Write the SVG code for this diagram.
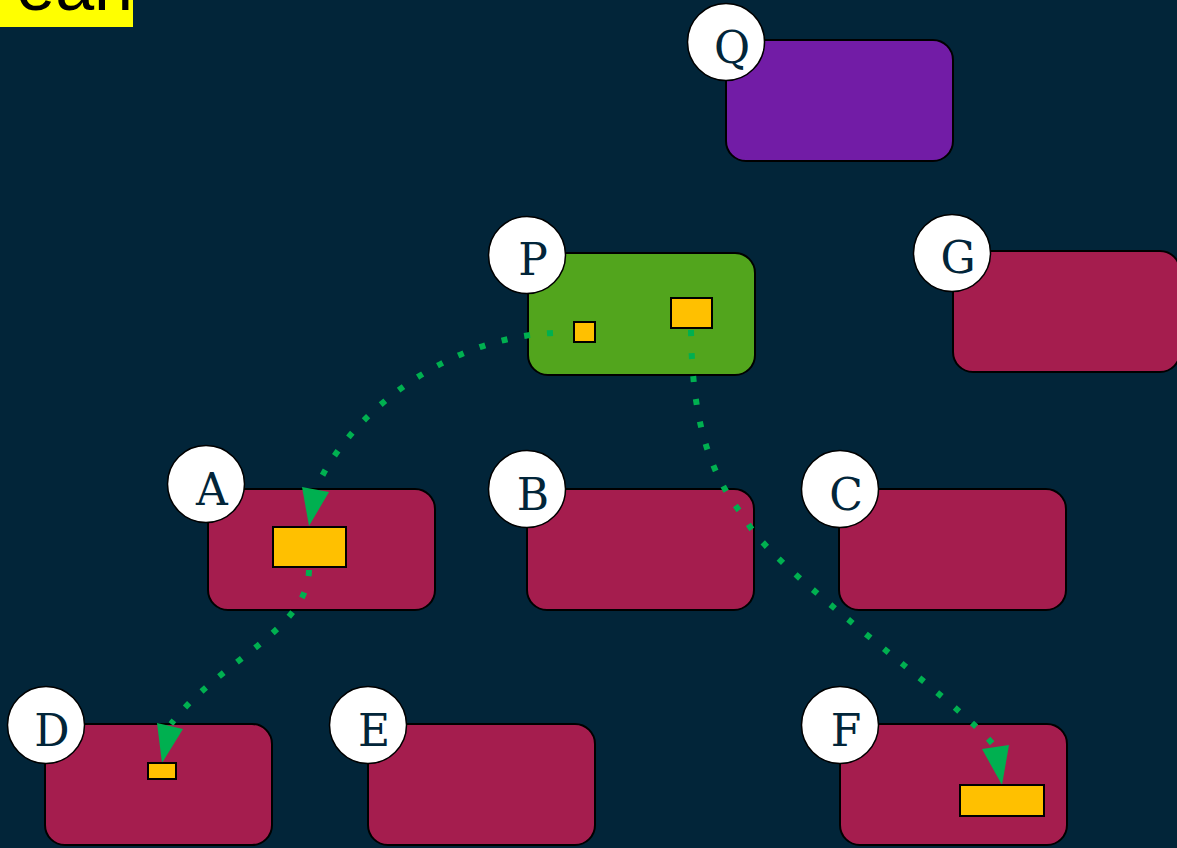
<svg xmlns="http://www.w3.org/2000/svg" width="1177" height="848" viewBox="0 0 1177 848">
<style>
.node{stroke:#000;stroke-width:2}
.red{fill:#a51d4e}
.pur{fill:#721ca6}
.grn{fill:#52a51d}
.badge{fill:#fff;stroke:#000;stroke-width:1.5}
.lbl{font-family:"DejaVu Serif","Liberation Serif",serif;font-size:44px;fill:#022539;text-anchor:middle}
.port{fill:#ffc000;stroke:#000;stroke-width:2}
.edge{fill:none;stroke:#00b050;stroke-width:6;stroke-dasharray:6 17}
.head{fill:#00b050}
</style>
<rect x="0" y="0" width="1177" height="848" fill="#022539"/>
<g id="title">
<rect x="0" y="0" width="133" height="27" fill="#ffff00"/>
<text x="133" y="10" font-family="'Liberation Sans',Arial,sans-serif" font-size="70" fill="#000" text-anchor="end">ean</text>
</g>
<g id="node-Q"><rect class="node pur" x="726" y="40" width="227" height="121" rx="20"/><circle class="badge" cx="726" cy="42" r="38.5"/><text class="lbl" x="732" y="63">Q</text></g>
<g id="node-P"><rect class="node grn" x="528" y="253" width="227" height="122" rx="20"/><circle class="badge" cx="527" cy="255" r="38.5"/><text class="lbl" x="533" y="275">P</text></g>
<g id="node-G"><rect class="node red" x="953" y="251" width="227" height="121" rx="20"/><circle class="badge" cx="952" cy="253" r="38.5"/><text class="lbl" x="958" y="273">G</text></g>
<g id="node-A"><rect class="node red" x="208" y="489" width="227" height="121" rx="20"/><circle class="badge" cx="206" cy="484" r="38.5"/><text class="lbl" x="212" y="505">A</text></g>
<g id="node-B"><rect class="node red" x="527" y="489" width="227" height="121" rx="20"/><circle class="badge" cx="527" cy="489" r="38.5"/><text class="lbl" x="533" y="510">B</text></g>
<g id="node-C"><rect class="node red" x="839" y="489" width="227" height="121" rx="20"/><circle class="badge" cx="840" cy="489" r="38.5"/><text class="lbl" x="846" y="510">C</text></g>
<g id="node-D"><rect class="node red" x="45" y="724" width="227" height="121" rx="20"/><circle class="badge" cx="46" cy="725" r="38.5"/><text class="lbl" x="52" y="746">D</text></g>
<g id="node-E"><rect class="node red" x="368" y="724" width="227" height="121" rx="20"/><circle class="badge" cx="368" cy="725" r="38.5"/><text class="lbl" x="374" y="746">E</text></g>
<g id="node-F"><rect class="node red" x="840" y="724" width="227" height="121" rx="20"/><circle class="badge" cx="840" cy="725" r="38.5"/><text class="lbl" x="846" y="746">F</text></g>
<g id="connectors">
<path class="edge" d="M 553 333 C 440 338, 345 420, 316 489"/>
<polygon class="head" points="302,487 329,492 309,526"/>
<path class="edge" d="M 691 330 C 692 410, 705 470, 745 518 C 765 565, 965 705, 995 747"/>
<polygon class="head" points="982,749 1009,745 1002,785"/>
<path class="edge" d="M 309 570 C 308 630, 220 660, 171 724"/>
<polygon class="head" points="157,723 183,729 162,763"/>
</g>
<g id="ports">
<rect class="port" x="574" y="322" width="21" height="20"/>
<rect class="port" x="671" y="298" width="41" height="30"/>
<rect class="port" x="273" y="527" width="73" height="40"/>
<rect class="port" x="148" y="763" width="28" height="16"/>
<rect class="port" x="960" y="785" width="84" height="31"/>
</g>
</svg>
